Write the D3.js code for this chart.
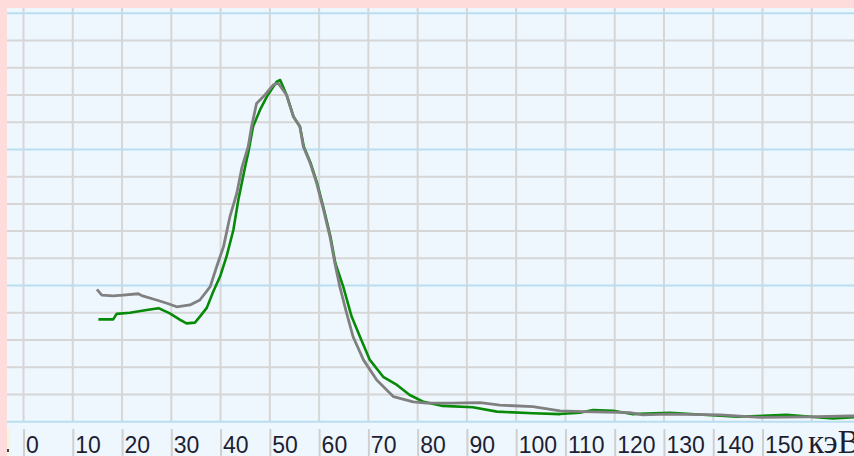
<!DOCTYPE html>
<html>
<head>
<meta charset="utf-8">
<script src="https://cdn.jsdelivr.net/npm/d3@7"></script>
<style>
  html, body { margin: 0; padding: 0; background: #ffdcdc; }
  svg { display: block; }
</style>
</head>
<body>
<svg id="chart" width="854" height="456"></svg>
<script>
// ---- data ----
const tickValues = [0, 10, 20, 30, 40, 50, 60, 70, 80, 90, 100, 110, 120, 130, 140, 150];
const unitLabel = "кэВ";

const grayKeV = [14.9, 15.9, 18.2, 20.2, 23.3, 24.0, 27.0, 29.1, 31.1, 33.8, 35.8, 37.9, 39.2, 40.6, 41.9, 43.3, 44.3, 45.6, 46.3, 47.3, 49.0, 50.7, 51.7, 53.4, 54.8, 56.1, 56.8, 58.2, 59.5, 60.9, 62.2, 63.2, 64.2, 65.6, 66.9, 69.0, 71.7, 75.1, 79.1, 81.8, 86.6, 92.7, 96.7, 103.4, 108.9, 113.6, 123.1, 125.7, 130.6, 141.4, 149.5, 159.0, 167.8, 168.6];
const grayCounts = [48.6, 46.5, 46.2, 46.5, 47.0, 46.3, 44.7, 43.5, 42.2, 42.9, 44.7, 49.6, 56.9, 64.3, 75.3, 83.9, 93.1, 101.0, 108.4, 116.9, 120.0, 123.7, 124.3, 120.0, 112.0, 108.4, 101.0, 94.9, 87.6, 77.8, 68.0, 58.2, 49.6, 39.8, 31.2, 22.7, 15.3, 9.2, 7.3, 6.8, 6.8, 7.0, 6.1, 5.5, 4.0, 3.7, 3.3, 2.5, 2.8, 2.5, 1.6, 1.8, 2.1, 2.1];

const greenKeV = [15.2, 18.2, 18.9, 21.6, 25.0, 27.4, 29.7, 31.8, 33.1, 34.8, 35.8, 37.2, 38.5, 39.9, 41.2, 42.6, 43.6, 45.0, 45.6, 46.6, 48.0, 49.4, 50.7, 51.4, 52.1, 53.4, 54.8, 56.1, 56.9, 58.3, 59.6, 61.0, 62.3, 63.3, 64.9, 66.6, 68.3, 70.3, 73.0, 75.8, 78.4, 81.2, 85.1, 91.2, 96.1, 103.4, 108.9, 112.9, 115.6, 119.7, 123.5, 131.2, 144.8, 154.9, 164.3, 168.6];
const greenCounts = [37.6, 37.6, 39.6, 40.0, 41.0, 41.7, 39.8, 37.4, 36.1, 36.4, 38.6, 41.8, 47.7, 53.3, 60.6, 70.4, 81.4, 93.7, 98.6, 108.4, 114.5, 119.4, 123.0, 124.9, 125.5, 120.0, 112.0, 108.4, 101.0, 94.9, 87.6, 77.8, 68.0, 58.2, 49.6, 38.6, 31.2, 22.7, 16.5, 13.5, 9.8, 7.3, 5.8, 5.3, 3.7, 3.1, 2.8, 3.3, 4.3, 4.0, 2.8, 3.3, 1.8, 2.5, 1.2, 1.7];

const gridX = [0, 10, 20, 30, 40, 50, 60, 70, 80, 90, 100, 110, 120, 130, 140, 150, 160];
const gridY = [0, 10, 20, 30, 40, 50, 60, 70, 80, 90, 100, 110, 120, 130, 140, 150];

// ---- layout ----
const W = 854, H = 456;
const plot = { left: 7, top: 8, right: 854, bottom: 456 };
const x = d3.scaleLinear().domain([0, 150]).range([23.5, 762.5]);
const y = d3.scaleLinear().domain([0, 150]).range([421.7, 13.3]);

const svg = d3.select("#chart");

svg.append("rect").attr("x", 0).attr("y", 0).attr("width", W).attr("height", H).attr("fill", "#ffdcdc");
svg.append("rect")
  .attr("x", plot.left).attr("y", plot.top)
  .attr("width", plot.right - plot.left).attr("height", plot.bottom - plot.top)
  .attr("fill", "#eff7fe");

svg.append("defs").append("clipPath").attr("id", "clip")
  .append("rect").attr("x", plot.left).attr("y", plot.top)
  .attr("width", plot.right - plot.left).attr("height", y(0) - plot.top);

// small yellow strip at bottom-left
svg.append("rect").attr("x", 7).attr("y", 429).attr("width", 3).attr("height", 27).attr("fill", "#fbf3d6");
svg.append("rect").attr("x", 7).attr("y", 449).attr("width", 2).attr("height", 3).attr("fill", "#444");

// vertical grid
svg.append("g").selectAll("line").data(gridX).join("line")
  .attr("x1", d => x(d)).attr("x2", d => x(d))
  .attr("y1", plot.top).attr("y2", y(0))
  .attr("stroke", "#d6d6d6").attr("stroke-width", 2);

// horizontal grid
svg.append("g").selectAll("line").data(gridY).join("line")
  .attr("x1", plot.left).attr("x2", plot.right)
  .attr("y1", d => y(d)).attr("y2", d => y(d))
  .attr("stroke", d => d % 50 === 0 ? "#b9def0" : "#d6d6d6")
  .attr("stroke-width", 2);

// series
const line = d3.line().x(d => x(d[0])).y(d => y(d[1]));
const g = svg.append("g").attr("clip-path", "url(#clip)");
g.append("path")
  .datum(greenKeV.map((k, i) => [k, greenCounts[i]]))
  .attr("d", line).attr("fill", "none")
  .attr("stroke", "#078a07").attr("stroke-width", 2.6).attr("stroke-linejoin", "round");
g.append("path")
  .datum(grayKeV.map((k, i) => [k, grayCounts[i]]))
  .attr("d", line).attr("fill", "none")
  .attr("stroke", "#808080").attr("stroke-width", 2.8).attr("stroke-linejoin", "round");

// bottom axis
const axis = d3.axisBottom(x).tickValues(tickValues).tickSize(27).tickFormat(d3.format("d"));
const ag = svg.append("g").attr("transform", "translate(0,429)").call(axis);
ag.select(".domain").remove();
ag.selectAll(".tick line").attr("stroke", "#cfcfcf").attr("stroke-width", 2);
ag.selectAll(".tick text")
  .attr("x", 2).attr("y", 23.5).attr("dy", null)
  .attr("text-anchor", "start")
  .attr("fill", "#1e1e32")
  .style("font-family", "'Liberation Sans Narrow', 'Liberation Sans', Arial, sans-serif")
  .style("font-size", "23px");

svg.append("text")
  .attr("x", 808).attr("y", 453)
  .attr("fill", "#1e1e32")
  .style("font-family", "'Liberation Serif', 'Times New Roman', serif")
  .style("font-size", "33px")
  .text(unitLabel);
</script>
</body>
</html>
